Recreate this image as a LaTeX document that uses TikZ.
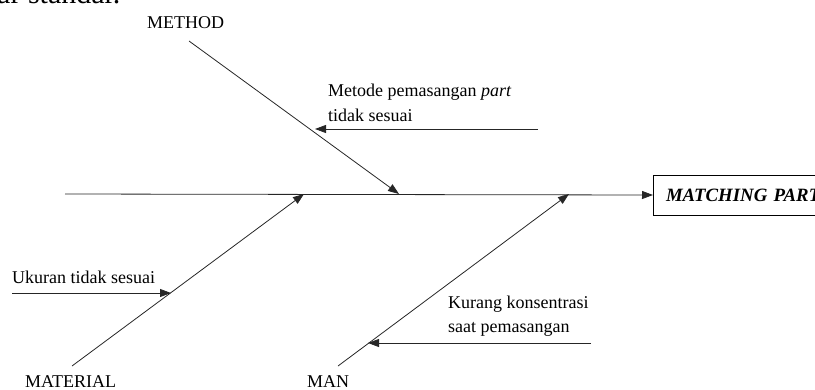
\documentclass[tikz,border=0pt]{standalone}
\usepackage{fontspec}
\setmainfont{Liberation Serif}
\usetikzlibrary{arrows.meta}
\tikzset{
  bone/.style={draw=black!85, line width=0.8pt},
  arr/.style={bone, -{Triangle[length=11pt,width=8pt]}},
  lbl/.style={inner sep=0pt, anchor=base west, font=\fontsize{18}{22}\selectfont},
}
\begin{document}
\begin{tikzpicture}[x=1pt,y=-1pt]
\useasboundingbox (0,0) rectangle (815,389);
\clip (0,0) rectangle (815,389);
% page text fragment
\node[lbl, font=\fontsize{30}{32}\selectfont] (pagetxt) at (-3,3) {ar standar.};
% effect
\node[draw=black, line width=1pt, anchor=west, minimum height=40pt, minimum width=230pt,
      text width=206pt, inner xsep=12.5pt, align=left,
      font=\fontsize{18.8}{22}\selectfont\bfseries\itshape] (effect) at (653,195) {MATCHING PART};
\coordinate (tail) at (65,194);
\draw[arr] (tail) -- (effect.west);
% METHOD
\node[lbl] (method) at (147,28) {METHOD};
\coordinate (methodStart) at (189,41);
\coordinate (methodTip) at (399,194);
\draw[arr] (methodStart) -- (methodTip);
\node[lbl] (metodeA) at (328,96) {Metode pemasangan \textit{part}};
\node[lbl] (metodeB) at (328,121) {tidak sesuai};
\coordinate (metodeStart) at (538,129);
\coordinate (metodeTip) at (315,129);
\draw[arr] (metodeStart) -- (metodeTip);
% MATERIAL
\node[lbl] (material) at (25,387) {MATERIAL};
\coordinate (materialStart) at (72,366);
\coordinate (materialTip) at (304,194);
\draw[arr] (materialStart) -- (materialTip);
\node[lbl] (ukuran) at (12,283) {Ukuran tidak sesuai};
\coordinate (ukuranStart) at (12,293);
\coordinate (ukuranTip) at (171,293);
\draw[arr] (ukuranStart) -- (ukuranTip);
% MAN
\node[lbl] (man) at (307,387) {MAN};
\coordinate (manStart) at (338,366);
\coordinate (manTip) at (569,194);
\draw[arr] (manStart) -- (manTip);
\node[lbl] (kurangA) at (448,308) {Kurang konsentrasi};
\node[lbl] (kurangB) at (448,332) {saat pemasangan};
\coordinate (kurangStart) at (591,343);
\coordinate (kurangTip) at (368,343);
\draw[arr] (kurangStart) -- (kurangTip);
\end{tikzpicture}
\end{document}
